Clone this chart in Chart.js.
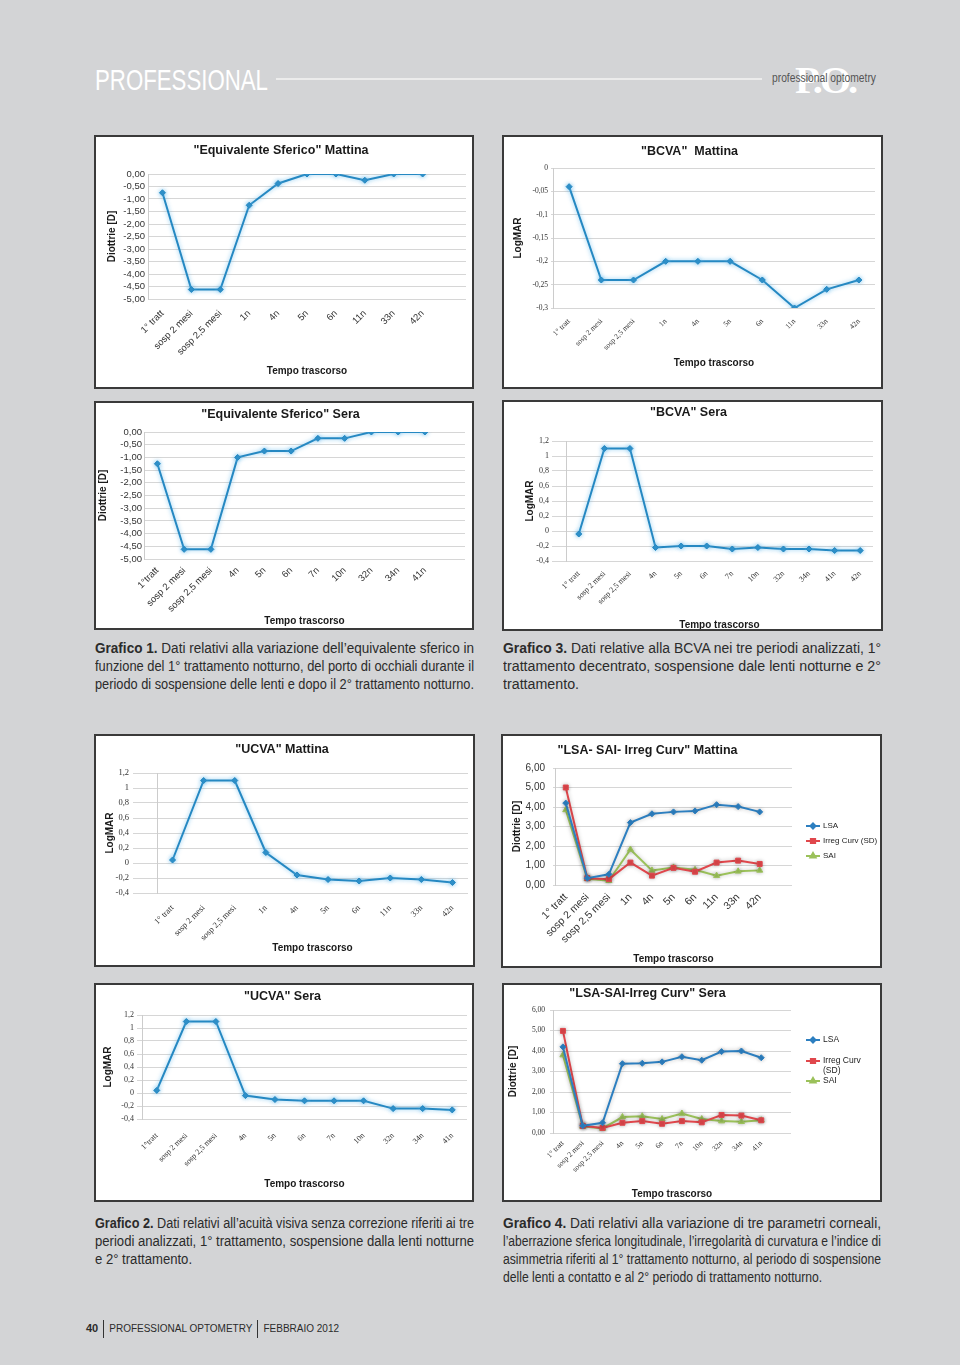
<!DOCTYPE html>
<html>
<head>
<meta charset="utf-8">
<script src="https://cdn.jsdelivr.net/npm/chart.js@4.4.1/dist/chart.umd.min.js"></script>
<style>
  body { margin: 0; background: #d3d4d6; }
  #page { position: relative; width: 960px; height: 1365px; background: #d3d4d6; overflow: hidden; font-family: 'Liberation Sans', Arial, sans-serif; }
  .box { position: absolute; box-sizing: border-box; border: 2px solid #3a3a3a; background: #fff; }
  .box canvas { display: block; }
  .cap { position: absolute; color: #2b2b2b; font-size: 14px; }
  .cap .ln { height: 18px; line-height: 18px; white-space: nowrap; }
  .cap .ln span { display: inline-block; transform-origin: 0 0; }
  .fit { position: absolute; white-space: nowrap; transform-origin: 0 0; }
  #brand { left: 95px; top: 64px; color: #fff; font-size: 29px; }
  #rule { position: absolute; left: 276px; top: 78px; width: 486px; height: 2px; background: #ececec; }
  #logo { left: 795px; top: 58px; color: #fff; font: bold 38px 'Liberation Serif', serif; letter-spacing: -3px; }
  #logotxt { left: 772px; top: 71px; color: #555; font-size: 12px; }
  #foot { position: absolute; left: 86px; top: 1320px; height: 16px; font-size: 10px; color: #2b2b2b; line-height: 16px; }
  #foot span { display: inline-block; }
  #foot .bar { width: 1px; height: 18px; background: #333; vertical-align: middle; margin: 0 5px; }
</style>
</head>
<body>
<div id="page">
  <div id="brand" class="fit" data-w="173">PROFESSIONAL</div>
  <div id="rule"></div>
  <div id="logo" class="fit" data-w="60">P.O.</div>
  <div id="logotxt" class="fit" data-w="104">professional optometry</div>

  <div class="cap" style="left:95px; top:639px" data-w="379">
    <div class="ln"><span><b>Grafico 1.</b> Dati relativi alla variazione dell’equivalente sferico in</span></div>
    <div class="ln"><span>funzione del 1° trattamento notturno, del porto di occhiali durante il</span></div>
    <div class="ln"><span>periodo di sospensione delle lenti e dopo il 2° trattamento notturno.</span></div>
  </div>
  <div class="cap" style="left:503px; top:639px" data-w="378">
    <div class="ln"><span><b>Grafico 3.</b> Dati relative alla BCVA nei tre periodi analizzati, 1°</span></div>
    <div class="ln"><span>trattamento decentrato, sospensione dale lenti notturne e 2°</span></div>
    <div class="ln last"><span>trattamento.</span></div>
  </div>
  <div class="cap" style="left:95px; top:1214px" data-w="379">
    <div class="ln"><span><b>Grafico 2.</b> Dati relativi all’acuità visiva senza correzione riferiti ai tre</span></div>
    <div class="ln"><span>periodi analizzati, 1° trattamento, sospensione dalla lenti notturne</span></div>
    <div class="ln last"><span>e 2° trattamento.</span></div>
  </div>
  <div class="cap" style="left:503px; top:1214px" data-w="378">
    <div class="ln"><span><b>Grafico 4.</b> Dati relativi alla variazione di tre parametri corneali,</span></div>
    <div class="ln"><span>l’aberrazione sferica longitudinale, l’irregolarità di curvatura e l’indice di</span></div>
    <div class="ln"><span>asimmetria riferiti al 1° trattamento notturno, al periodo di sospensione</span></div>
    <div class="ln last"><span>delle lenti a contatto e al 2° periodo di trattamento notturno.</span></div>
  </div>

  <div id="foot"><span><b style="font-size:11px">40</b></span><span class="bar"></span><span>PROFESSIONAL OPTOMETRY</span><span class="bar"></span><span>FEBBRAIO 2012</span></div>
</div>

<script>
// Tick labels (categories)
const labelsMattina = ['1° tratt', 'sosp 2 mesi', 'sosp 2,5 mesi', '1n', '4n', '5n', '6n', '11n', '33n', '42n'];
const labelsSeraES = ['1°tratt', 'sosp 2 mesi', 'sosp 2,5 mesi', '4n', '5n', '6n', '7n', '10n', '32n', '34n', '41n'];
const labelsSeraBCVA = ['1° tratt', 'sosp 2 mesi', 'sosp 2,5 mesi', '4n', '5n', '6n', '7n', '10n', '32n', '34n', '41n', '42n'];
const labelsSeraUCVA = ['1°tratt', 'sosp 2 mesi', 'sosp 2,5 mesi', '4n', '5n', '6n', '7n', '10n', '32n', '34n', '41n'];
const labelsSeraLSA = ['1° tratt', 'sosp 2 mesi', 'sosp 2,5 mesi', '4n', '5n', '6n', '7n', '10n', '32n', '34n', '41n'];

// Series values
const esMattina = [-0.75, -4.62, -4.62, -1.25, -0.38, 0, 0, -0.25, 0, 0];
const esSera = [-1.25, -4.62, -4.62, -1.0, -0.75, -0.75, -0.25, -0.25, 0, 0, 0];
const bcvaMattina = [-0.04, -0.24, -0.24, -0.2, -0.2, -0.2, -0.24, -0.3, -0.26, -0.24];
const bcvaSera = [-0.04, 1.1, 1.1, -0.22, -0.2, -0.2, -0.24, -0.22, -0.24, -0.24, -0.26, -0.26];
const ucvaMattina = [0.04, 1.1, 1.1, 0.14, -0.16, -0.22, -0.24, -0.2, -0.22, -0.26];
const ucvaSera = [0.04, 1.1, 1.1, -0.04, -0.1, -0.12, -0.12, -0.12, -0.24, -0.24, -0.26];
const lsaMattina = [4.2, 0.35, 0.55, 3.2, 3.65, 3.75, 3.8, 4.12, 4.02, 3.75];
const irregMattina = [5.0, 0.35, 0.3, 1.15, 0.48, 0.88, 0.68, 1.15, 1.25, 1.08];
const saiMattina = [3.85, 0.32, 0.22, 1.82, 0.75, 0.9, 0.78, 0.48, 0.7, 0.75];
const lsaSera = [4.2, 0.35, 0.5, 3.38, 3.4, 3.47, 3.72, 3.55, 3.97, 4.0, 3.67];
const irregSera = [4.98, 0.35, 0.25, 0.5, 0.58, 0.45, 0.58, 0.52, 0.88, 0.85, 0.62];
const saiSera = [3.8, 0.32, 0.22, 0.78, 0.82, 0.68, 0.95, 0.68, 0.58, 0.55, 0.62];
const seriesNames = ['LSA', 'Irreg Curv (SD)', 'SAI'];
const seriesNamesSera = ['LSA', 'Irreg Curv\n(SD)', 'SAI'];

const SANS = "'Liberation Sans', Arial, sans-serif";
const SERIF = "'Liberation Serif', 'Times New Roman', serif";
const BLUE = '#2588c2';
const page = document.getElementById('page');

// squeeze header texts to the width they have in print
document.querySelectorAll('.fit').forEach(el => {
  const w = el.getBoundingClientRect().width;
  el.style.transform = 'scaleX(' + (el.dataset.w / w) + ')';
});

// captions: every full line is squeezed to the column width (condensed type in print),
// the short last line keeps the squeeze of the line above it
document.querySelectorAll('.cap').forEach(cap => {
  let k = 0.8;
  cap.querySelectorAll('.ln').forEach(ln => {
    const sp = ln.firstElementChild;
    if (!ln.classList.contains('last')) k = cap.dataset.w / sp.getBoundingClientRect().width;
    sp.style.transform = 'scaleX(' + k + ')';
  });
});

// comma decimals like the Italian Excel charts
const fix2 = v => v.toFixed(2).replace('.', ',');
const short = v => String(Math.round(v * 100) / 100).replace('.', ',');

// light shadow under the lines (Excel effect)
const glow = {
  id: 'glow',
  beforeDatasetsDraw(c, a, o) { c.ctx.save(); c.ctx.shadowColor = o.color; c.ctx.shadowBlur = 4; },
  afterDatasetsDraw(c) { c.ctx.restore(); }
};

// legend on the right, placed like the original
const sideLegend = {
  id: 'sideLegend',
  afterDraw(c, a, o) {
    if (!o.items) return;
    const ctx = c.ctx;
    c.data.datasets.forEach((ds, i) => {
      const y = o.items[i];
      ctx.save();
      ctx.strokeStyle = ds.borderColor;
      ctx.fillStyle = ds.backgroundColor;
      ctx.lineWidth = 2;
      ctx.beginPath(); ctx.moveTo(o.x1, y); ctx.lineTo(o.x2, y); ctx.stroke();
      Chart.helpers.drawPoint(ctx, { pointStyle: ds.pointStyle, radius: ds.pointRadius - 0.5, borderWidth: 1 }, (o.x1 + o.x2) / 2, y);
      ctx.fillStyle = '#222';
      ctx.font = o.size + 'px ' + SANS;
      ctx.textBaseline = 'middle';
      ds.label.split('\n').forEach((t, k) => ctx.fillText(t, o.tx, y + k * o.lh));
      ctx.restore();
    });
  }
};

function series(label, data, color, style, r) {
  return {
    label, data, borderColor: color, backgroundColor: color, borderWidth: 2,
    pointStyle: style, pointRadius: r, pointBorderWidth: 1, tension: 0
  };
}

function makeChart(g, title, labels, datasets, y, legend) {
  const [bx, by, bw, bh] = g.box;
  const div = document.createElement('div');
  div.className = 'box';
  Object.assign(div.style, { left: bx + 'px', top: by + 'px', width: bw + 'px', height: bh + 'px' });
  const cv = document.createElement('canvas');
  const W = bw - 4, H = bh - 4, ox = bx + 2, oy = by + 2;
  cv.width = W; cv.height = H;
  cv.style.width = W + 'px'; cv.style.height = H + 'px';
  div.appendChild(cv);
  page.appendChild(div);

  const L = g.plot[0] - ox, T = g.plot[1] - oy, R = g.plot[2] - ox, B = g.plot[3] - oy;
  const tl = g.plot[0] - g.gridStart;
  const tp = g.titleY - oy - 7.5;
  let leg = false;
  if (legend) {
    leg = {
      items: legend.items.map(v => v - oy), x1: legend.x1 - ox, x2: legend.x2 - ox,
      tx: legend.tx - ox, size: legend.size, lh: legend.lh
    };
  }

  return new Chart(cv, {
    type: 'line',
    data: { labels, datasets },
    options: {
      responsive: false,
      animation: false,
      layout: { padding: { left: 0, top: 0, right: W - R, bottom: 0 } },
      plugins: {
        legend: { display: false },
        tooltip: { enabled: false },
        title: {
          display: true, text: title, color: '#1a1a1a',
          font: { family: SANS, size: 12.5, weight: 'bold' },
          padding: { top: tp, bottom: T - tp - 15 }
        },
        glow: { color: legend ? 'rgba(0,0,0,0.25)' : 'rgba(100,185,235,0.8)' },
        sideLegend: leg
      },
      scales: {
        x: {
          offset: true,
          grid: { display: false, drawTicks: false },
          border: { display: false },
          ticks: {
            autoSkip: false, maxRotation: 45, minRotation: 45, padding: g.labelTop - g.plot[3],
            color: '#333', font: { family: g.font, size: g.xsize || g.size }
          },
          title: {
            display: true, text: 'Tempo trascorso', color: '#1a1a1a',
            font: { family: SANS, size: 10, weight: 'bold' },
            padding: { top: 0, bottom: H - (g.xTitleY - oy) - 6 }
          },
          afterFit: s => { s.height = H - B; }
        },
        y: {
          min: y.min, max: y.max,
          ticks: {
            stepSize: y.step, callback: y.fmt, autoSkip: false, maxTicksLimit: 40,
            padding: g.gridStart - g.labelRight, color: '#333',
            font: { family: g.font, size: g.size, lineHeight: 0.8 }
          },
          grid: { color: '#d6d6d6', drawTicks: tl > 0, tickLength: tl },
          border: { color: '#cccccc' },
          title: {
            display: true, text: y.title, color: '#1a1a1a',
            font: { family: SANS, size: 10, weight: 'bold' },
            padding: { top: g.yTitleX - ox - 6, bottom: 0 }
          },
          afterFit: s => { s.width = L; }
        }
      }
    },
    plugins: [glow, sideLegend]
  });
}

const esAxis = { min: -5, max: 0, step: 0.5, fmt: fix2, title: 'Diottrie [D]' };
const logAxis = { min: -0.4, max: 1.2, step: 0.2, fmt: short, title: 'LogMAR' };
const dioAxis = { min: 0, max: 6, step: 1, fmt: fix2, title: 'Diottrie [D]' };

// Grafico 1 - Equivalente Sferico (one empty slot at the end, as in the Excel chart)
makeChart({ box: [94, 135, 380, 254], plot: [148, 174, 466, 299], gridStart: 148, labelRight: 145,
  titleY: 151, xTitleY: 371, yTitleX: 112, labelTop: 308, font: SANS, size: 9.5 },
  '"Equivalente Sferico" Mattina', [...labelsMattina, ''],
  [series('ES', esMattina, BLUE, 'rectRot', 3)], esAxis);

makeChart({ box: [94, 401, 380, 229], plot: [144, 432, 465, 559], gridStart: 144, labelRight: 142,
  titleY: 415, xTitleY: 621, yTitleX: 103, labelTop: 565, font: SANS, size: 9.5 },
  '"Equivalente Sferico" Sera', [...labelsSeraES, ''],
  [series('ES', esSera, BLUE, 'rectRot', 3)], esAxis);

// Grafico 3 - BCVA
makeChart({ box: [502, 135, 381, 254], plot: [553, 168, 875, 308], gridStart: 551, labelRight: 548,
  titleY: 152, xTitleY: 363, yTitleX: 518, labelTop: 317, font: SERIF, size: 7.5 },
  '"BCVA"  Mattina', labelsMattina,
  [series('BCVA', bcvaMattina, BLUE, 'rectRot', 3)],
  { min: -0.3, max: 0, step: 0.05, fmt: short, title: 'LogMAR' });

makeChart({ box: [502, 400, 381, 231], plot: [566, 441, 873, 561], gridStart: 552, labelRight: 549,
  titleY: 413, xTitleY: 625, yTitleX: 530, labelTop: 569, font: SERIF, size: 8 },
  '"BCVA" Sera', labelsSeraBCVA,
  [series('BCVA', bcvaSera, BLUE, 'rectRot', 3)], logAxis);

// Grafico 2 - UCVA
makeChart({ box: [94, 734, 381, 233], plot: [157, 773, 468, 893], gridStart: 133, labelRight: 129,
  titleY: 750, xTitleY: 948, yTitleX: 110, labelTop: 903, font: SERIF, size: 8.5 },
  '"UCVA" Mattina', labelsMattina,
  [series('UCVA', ucvaMattina, BLUE, 'rectRot', 3)], logAxis);

makeChart({ box: [94, 983, 380, 219], plot: [142, 1015, 469, 1119], gridStart: 137, labelRight: 134,
  titleY: 997, xTitleY: 1184, yTitleX: 108, labelTop: 1131, font: SERIF, size: 8 },
  '"UCVA" Sera', labelsSeraUCVA,
  [series('UCVA', ucvaSera, BLUE, 'rectRot', 3)], logAxis);

// Grafico 4 - LSA, Irreg Curv, SAI
makeChart({ box: [501, 734, 381, 234], plot: [555, 768, 792, 885], gridStart: 553, labelRight: 545,
  titleY: 751, xTitleY: 959, yTitleX: 517, labelTop: 891, font: SANS, size: 10, xsize: 10.5 },
  '"LSA- SAI- Irreg Curv" Mattina', [...labelsMattina, ''],
  [series(seriesNames[0], lsaMattina, '#2d7fc0', 'rectRot', 3),
   series(seriesNames[1], irregMattina, '#e0474c', 'rect', 3.5),
   series(seriesNames[2], saiMattina, '#9bc15a', 'triangle', 3.5)], dioAxis,
  { items: [826, 841, 856], x1: 806, x2: 820, tx: 823, size: 8, lh: 10 });

makeChart({ box: [502, 983, 380, 219], plot: [553, 1010, 791, 1133], gridStart: 550, labelRight: 545,
  titleY: 994, xTitleY: 1194, yTitleX: 513, labelTop: 1139, font: SERIF, size: 7.5 },
  '"LSA-SAI-Irreg Curv" Sera', [...labelsSeraLSA, ''],
  [series(seriesNamesSera[0], lsaSera, '#2d7fc0', 'rectRot', 3),
   series(seriesNamesSera[1], irregSera, '#e0474c', 'rect', 3.5),
   series(seriesNamesSera[2], saiSera, '#9bc15a', 'triangle', 3.5)], dioAxis,
  { items: [1040, 1061, 1081], x1: 806, x2: 820, tx: 823, size: 8.5, lh: 10 });
</script>
</body>
</html>
